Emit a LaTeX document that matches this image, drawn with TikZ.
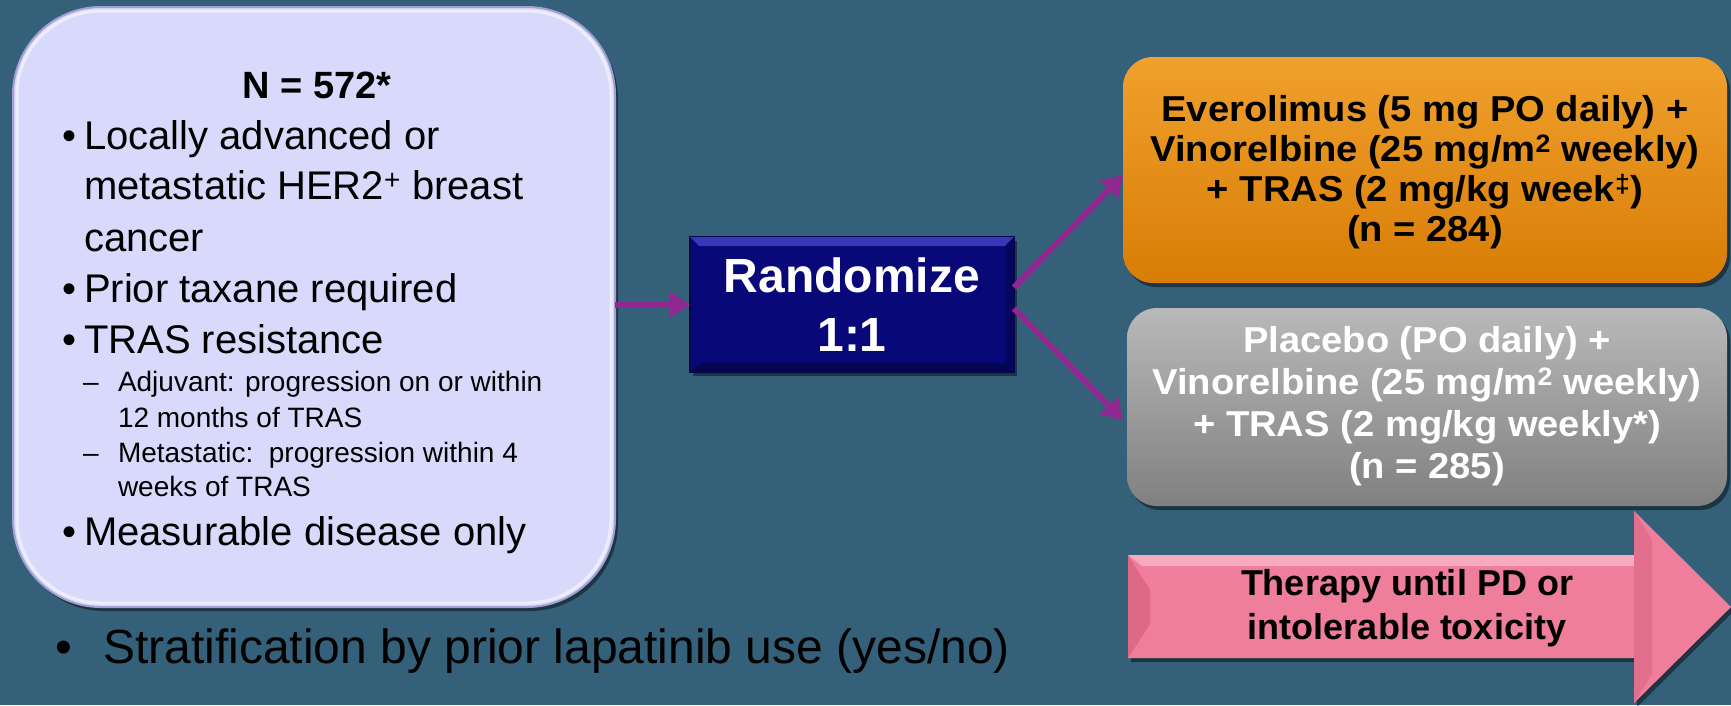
\documentclass[tikz,border=0pt]{standalone}
\usepackage{fontspec}
\setmainfont{Liberation Sans}
\newfontfamily\armfont[FakeStretch=1.06]{Liberation Sans}
\usetikzlibrary{arrows.meta,shadows,calc}
\definecolor{bg}{RGB}{52,97,121}
\definecolor{lav}{RGB}{217,217,252}
\definecolor{lavedge}{RGB}{160,160,210}
\definecolor{navy}{RGB}{8,8,120}
\definecolor{navylt}{RGB}{55,55,185}
\definecolor{navydk}{RGB}{5,5,80}
\definecolor{orng}{RGB}{216,125,6}
\definecolor{orngl}{RGB}{240,160,45}
\definecolor{gry}{RGB}{128,128,128}
\definecolor{gryl}{RGB}{185,185,185}
\definecolor{pnk}{RGB}{238,126,153}
\definecolor{pnkl}{RGB}{250,182,200}
\definecolor{pnkd}{RGB}{222,105,135}
\definecolor{purp}{RGB}{145,40,145}
\begin{document}
\begin{tikzpicture}[x=1pt,y=-1pt,
  every node/.style={inner sep=0pt,outer sep=0pt},
  shad/.style={drop shadow={shadow xshift=3pt,shadow yshift=-4pt,opacity=0.45,fill=black}},
  conn/.style={draw=purp,line width=6pt,-{Triangle[length=20pt,width=24pt]}},
  critbox/.style={draw=lavedge,line width=2pt,fill=lav,rounded corners=88pt,shad},
  randbox/.style={fill=navy,draw=navydk,line width=1.5pt,shad,text=white,
    font=\bfseries\fontsize{48}{59}\selectfont,align=center},
  armbox/.style={rounded corners=30pt,shad},
  bl/.style={anchor=base west,font=\fontsize{40}{48}\selectfont},
  sbl/.style={anchor=base west,font=\fontsize{28}{34}\selectfont},
  armtxt/.style={font=\armfont\bfseries\fontsize{36}{40}\selectfont,align=center}
]
\useasboundingbox (0,0) rectangle (1731,705);
\fill[bg] (0,0) rectangle (1731,705);

% criteria box
\node[critbox,minimum width=602pt,minimum height=600pt] (crit) at (314,307) {};
\draw[white,opacity=0.55,line width=3pt,rounded corners=84pt] (17,11) rectangle (611,603);

\node[anchor=base,font=\bfseries\fontsize{38}{46}\selectfont] (ntot) at (317,98) {N = 572*};
\node[bl] (b1) at (62,149) {•};
\node[bl] (t1) at (84,149) {Locally advanced or};
\node[bl] (t1b) at (84,199) {metastatic HER2\textsuperscript{+} breast};
\node[bl] (t1c) at (84,251) {cancer};
\node[bl] (b2) at (62,302) {•};
\node[bl] (t2) at (84,302) {Prior taxane required};
\node[bl] (b3) at (62,353) {•};
\node[bl] (t3) at (84,353) {TRAS resistance};
\node[sbl] (d1) at (83,391) {–};
\node[sbl] (s1) at (118,391) {Adjuvant: progression on or within};
\node[sbl] (s1b) at (118,427) {12 months of TRAS};
\node[sbl] (d2) at (83,462) {–};
\node[sbl] (s2) at (118,462) {Metastatic:\ \ progression within 4};
\node[sbl] (s2b) at (118,496) {weeks of TRAS};
\node[bl] (b4) at (62,545) {•};
\node[bl] (t4) at (84,545) {Measurable disease only};

% randomize
\node[randbox,minimum width=324pt,minimum height=135pt] (rand) at (852,304.5) {Randomize\\1:1};
\fill[navylt] (rand.north west) -- (rand.north east) -- ($(rand.north east)+(-9,9)$) -- ($(rand.north west)+(9,9)$) -- cycle;
\fill[navydk] (rand.south west) -- (rand.south east) -- ($(rand.south east)+(-9,-9)$) -- ($(rand.south west)+(9,-9)$) -- cycle;
\fill[navydk!70!navy] (rand.north east) -- (rand.south east) -- ($(rand.south east)+(-9,-9)$) -- ($(rand.north east)+(-9,9)$) -- cycle;

% arms
\node[armbox,top color=orngl,middle color=orng,bottom color=orng,minimum width=604pt,minimum height=226pt] (orange) at (1425,170) {};
\node[armtxt] (otxt) at (1425,172) {Everolimus (5 mg PO daily) +\\Vinorelbine (25 mg/m\textsuperscript{2} weekly)\\+ TRAS (2 mg/kg week\textsuperscript{‡})\\(n = 284)};
\node[armbox,top color=gryl,middle color=gry,bottom color=gry,minimum width=600pt,minimum height=198pt] (gray) at (1427,407) {};
\node[armtxt,text=white,font=\armfont\bfseries\fontsize{36}{42}\selectfont] (gtxt) at (1427,406) {Placebo (PO daily) +\\Vinorelbine (25 mg/m\textsuperscript{2} weekly)\\+ TRAS (2 mg/kg weekly*)\\(n = 285)};

% therapy arrow
\fill[pnk,shad] (1128,555) -- (1634,555) -- (1634,511) -- (1731,607) -- (1634,703) -- (1634,658) -- (1128,658) -- cycle;
\fill[pnkl,opacity=0.8] (1128,555) -- (1634,555) -- (1634,566) -- (1142,566) -- cycle;
\fill[pnkd] (1128,555) -- (1150,590) -- (1150,624) -- (1128,658) -- cycle;
\fill[pnkd,opacity=0.7] (1634,511) -- (1652,540) -- (1652,674) -- (1634,703) -- cycle;
\node[font=\bfseries\fontsize{36}{44}\selectfont,align=center] (ther) at (1407,608) {Therapy until PD or\\intolerable toxicity};

% stratification
\node[anchor=base west,font=\fontsize{48}{56}\selectfont] (sb) at (55,663) {•};
\node[anchor=base west,font=\fontsize{48}{56}\selectfont] (strat) at (103,663) {Stratification by prior lapatinib use (yes/no)};

% connectors
\draw[conn] (crit.east |- rand.west) -- (rand.west);
\draw[conn] ([yshift=17pt]rand.east) -- ([yshift=-5pt]orange.west);
\draw[conn] ([yshift=-4pt]rand.east) -- ([yshift=-13pt,xshift=-4pt]gray.west);
\end{tikzpicture}
\end{document}
